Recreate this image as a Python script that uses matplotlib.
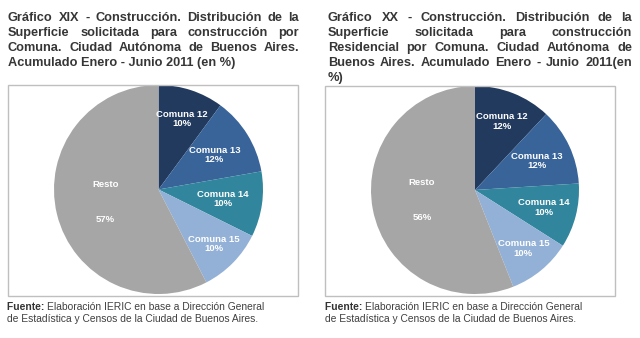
import matplotlib
matplotlib.use("Agg")
import matplotlib.pyplot as plt
import numpy as np
from matplotlib.patches import Rectangle

plt.rcParams['font.family'] = ['Liberation Sans', 'DejaVu Sans']

# datos
comunas = ['Comuna 12', 'Comuna 13', 'Comuna 14', 'Comuna 15', 'Resto']
total_pct = [10, 12, 10, 10, 57]
residencial_pct = [12, 12, 10, 10, 56]

colores = ['#223a5e', '#38649a', '#31859c', '#93b1d6', '#a6a6a6']

titulo_total = [
    'Gráfico XIX - Construcción. Distribución de la',
    'Superficie solicitada para construcción por',
    'Comuna. Ciudad Autónoma de Buenos Aires.',
    'Acumulado Enero - Junio 2011 (en %)',
]
titulo_residencial = [
    'Gráfico XX - Construcción. Distribución de la',
    'Superficie solicitada para construcción',
    'Residencial por Comuna. Ciudad Autónoma de',
    'Buenos Aires. Acumulado Enero - Junio 2011(en',
    '%)',
]
fuente = ['Elaboración IERIC en base a Dirección General',
          'de Estadística y Censos de la Ciudad de Buenos Aires.']

W, H = 640, 338
fig = plt.figure(figsize=(W / 100, H / 100), dpi=100)
fig.patch.set_facecolor('white')
renderer = fig.canvas.get_renderer()


def fx(x):
    return x / W


def fy(y):
    return 1 - y / H


def ancho(t):
    return t.get_window_extent(renderer).width


def titulo(lineas, x0, x1, y0, dy, size=9.2):
    # texto justificado: todas las lineas menos la ultima ocupan el ancho
    for i, linea in enumerate(lineas):
        y = y0 + i * dy
        kw = dict(fontsize=size, fontweight='bold', color='#363636',
                  va='baseline', ha='left')
        if i == len(lineas) - 1:
            fig.text(fx(x0), fy(y), linea, **kw)
            continue
        palabras = linea.split()
        textos = [fig.text(0, fy(y), p, **kw) for p in palabras]
        anchos = [ancho(t) for t in textos]
        hueco = (x1 - x0 - sum(anchos)) / (len(palabras) - 1)
        x = x0
        for t, w in zip(textos, anchos):
            t.set_x(fx(x))
            x += w + hueco


def pie(valores, cx, cy, r, dist, box):
    bx0, by0, bx1, by1 = box
    fig.add_artist(Rectangle((fx(bx0), fy(by1)), fx(bx1 - bx0), (by1 - by0) / H,
                             transform=fig.transFigure, fill=False,
                             edgecolor='#bfbfbf', linewidth=1))
    ax = fig.add_axes([fx(cx - r), fy(cy + r), 2 * r / W, 2 * r / H])
    wedges, _ = ax.pie(valores, colors=colores, startangle=90, counterclock=False,
                       radius=1, wedgeprops=dict(linewidth=0))
    ax.set_xlim(-1, 1)
    ax.set_ylim(-1, 1)
    ax.axis('off')
    for w, nombre, v, d in zip(wedges, comunas, valores, dist):
        ang = np.deg2rad((w.theta1 + w.theta2) / 2)
        x, y = d * np.cos(ang), d * np.sin(ang)
        # en "Resto" el porcentaje va bastante mas abajo
        ls = 4.7 if nombre == 'Resto' else 1.05
        ax.text(x, y, f'{nombre}\n{v}%', ha='center', va='center', color='white',
                fontsize=6.8, fontweight='bold', linespacing=ls)


def nota(x, y0, dy):
    t = fig.text(fx(x), fy(y0), 'Fuente: ', fontsize=7.4, fontweight='bold',
                 color='#333333', va='baseline')
    w = ancho(t)
    fig.text(fx(x + w), fy(y0), fuente[0], fontsize=7.4, color='#404040', va='baseline')
    fig.text(fx(x), fy(y0 + dy), fuente[1], fontsize=7.4, color='#404040', va='baseline')


titulo(titulo_total, 8, 299, 20.7, 15)
titulo(titulo_residencial, 328, 632, 20.7, 15)

pie(total_pct, 158.5, 189.5, 104.5, [0.71, 0.63, 0.62, 0.74, 0.52], (8, 85, 298, 296))
pie(residencial_pct, 475, 190, 104, [0.71, 0.66, 0.68, 0.73, 0.52], (325, 86, 615, 296))

nota(7, 309.5, 12.3)
nota(325, 309.5, 12.3)

fig.savefig('out.png', dpi=100, facecolor='white')
